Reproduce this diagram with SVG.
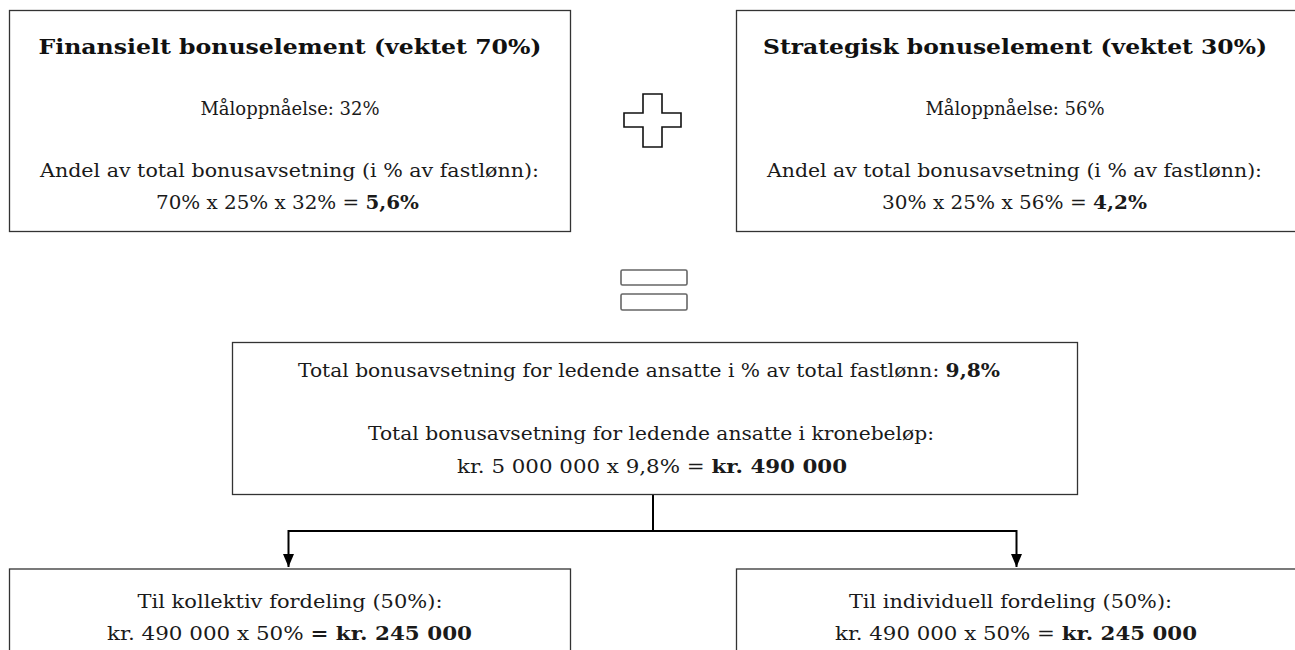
<svg xmlns="http://www.w3.org/2000/svg" width="1295" height="650" viewBox="0 0 1295 650">
<defs>
<style>
.box{fill:#fff;stroke:#333;stroke-width:1.3}
.t{font-family:"DejaVu Serif","Liberation Serif",serif;font-size:18px;fill:#1a1a1a;text-anchor:middle}
.h{font-family:"DejaVu Serif","Liberation Serif",serif;font-size:20.5px;font-weight:bold;fill:#111;text-anchor:middle}
.b{font-weight:bold}
.con{fill:none;stroke:#000;stroke-width:2}
.sym{fill:#fff;stroke:#111;stroke-width:1.6}
.eq{fill:#fff;stroke:#666;stroke-width:1.6}
</style>
<marker id="arr" viewBox="0 0 13 11" refX="13" refY="5.5" markerWidth="13" markerHeight="11" markerUnits="userSpaceOnUse" orient="auto">
<path d="M0,0 L13,5.5 L0,11 Z" fill="#000"/>
</marker>
</defs>
<rect width="1295" height="650" fill="#fff"/>

<g id="connectors">
<path class="con" d="M653,495 V531"/>
<path class="con" d="M288.5,531 H1016.5"/>
<path class="con" d="M288.5,530 V567" marker-end="url(#arr)"/>
<path class="con" d="M1016.5,530 V567" marker-end="url(#arr)"/>
</g>

<g id="finansielt">
<rect class="box" x="9.5" y="10.5" width="561" height="221"/>
<text class="h" x="290" y="54" textLength="503" lengthAdjust="spacingAndGlyphs">Finansielt bonuselement (vektet 70%)</text>
<text class="t" x="290" y="115">Måloppnåelse: 32%</text>
<text class="t" x="289.5" y="177" textLength="499" lengthAdjust="spacingAndGlyphs">Andel av total bonusavsetning (i % av fastlønn):</text>
<text class="t" x="287.5" y="209" textLength="263" lengthAdjust="spacingAndGlyphs">70% x 25% x 32% = <tspan class="b">5,6%</tspan></text>
</g>

<g id="plus">
<path class="sym" d="M643,94 H662 V113 H681 V127 H662 V147 H643 V127 H624 V113 H643 Z"/>
</g>

<g id="strategisk">
<rect class="box" x="736.5" y="10.5" width="570" height="221"/>
<text class="h" x="1015" y="54" textLength="504" lengthAdjust="spacingAndGlyphs">Strategisk bonuselement (vektet 30%)</text>
<text class="t" x="1015" y="115">Måloppnåelse: 56%</text>
<text class="t" x="1014.5" y="177" textLength="495" lengthAdjust="spacingAndGlyphs">Andel av total bonusavsetning (i % av fastlønn):</text>
<text class="t" x="1014.5" y="209" textLength="265" lengthAdjust="spacingAndGlyphs">30% x 25% x 56% = <tspan class="b">4,2%</tspan></text>
</g>

<g id="equals">
<rect class="eq" x="621" y="270" width="66" height="15" rx="1.5"/>
<rect class="eq" x="621" y="294" width="66" height="16" rx="1.5"/>
</g>

<g id="total">
<rect class="box" x="232.5" y="342.5" width="845" height="152"/>
<text class="t" x="649" y="377" textLength="702" lengthAdjust="spacingAndGlyphs">Total bonusavsetning for ledende ansatte i % av total fastlønn: <tspan class="b">9,8%</tspan></text>
<text class="t" x="651" y="440" textLength="566" lengthAdjust="spacingAndGlyphs">Total bonusavsetning for ledende ansatte i kronebeløp:</text>
<text class="t" x="652" y="473" textLength="390" lengthAdjust="spacingAndGlyphs">kr. 5 000 000 x 9,8% = <tspan class="b">kr. 490 000</tspan></text>
</g>

<g id="kollektiv">
<rect class="box" x="9.5" y="569" width="561" height="100"/>
<text class="t" x="290" y="608" textLength="305" lengthAdjust="spacingAndGlyphs">Til kollektiv fordeling (50%):</text>
<text class="t" x="289.5" y="640" textLength="365" lengthAdjust="spacingAndGlyphs">kr. 490 000 x 50% <tspan class="b">= kr. 245 000</tspan></text>
</g>

<g id="individuell">
<rect class="box" x="736.5" y="569" width="570" height="100"/>
<text class="t" x="1010.5" y="608" textLength="323" lengthAdjust="spacingAndGlyphs">Til individuell fordeling (50%):</text>
<text class="t" x="1016" y="640" textLength="362" lengthAdjust="spacingAndGlyphs">kr. 490 000 x 50% = <tspan class="b">kr. 245 000</tspan></text>
</g>
</svg>
